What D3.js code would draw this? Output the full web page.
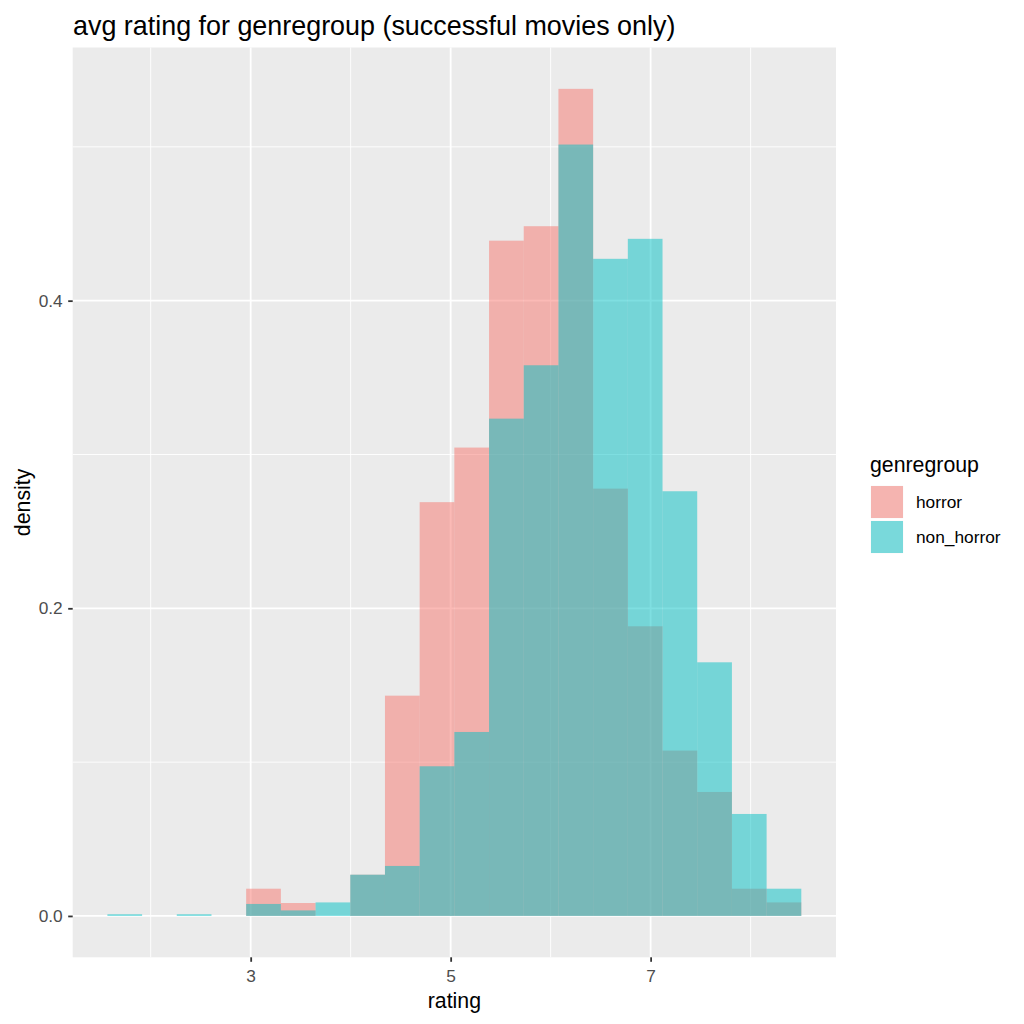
<!DOCTYPE html>
<html>
<head>
<meta charset="utf-8">
<script src="https://cdn.jsdelivr.net/npm/d3@7"></script>
<style>
  body { margin: 0; background: #ffffff; }
  svg { display: block; font-family: 'Liberation Sans', Arial, sans-serif; }
</style>
</head>
<body>
<script>
// bin edges of the histogram (20 bins)
var binEdges = [1.567, 1.914, 2.261, 2.608, 2.955, 3.302, 3.649, 3.996, 4.343, 4.690, 5.037,
                5.384, 5.731, 6.078, 6.425, 6.772, 7.119, 7.466, 7.813, 8.160, 8.507];

// density per bin
var horrorDensity    = [0, 0, 0, 0, 0.0177, 0.0084, 0, 0.0268, 0.1432, 0.2690,
                        0.3045, 0.4390, 0.4484, 0.5377, 0.2778, 0.1883, 0.1075, 0.0806, 0.0177, 0.0088];
var nonHorrorDensity = [0.0011, 0, 0.0011, 0, 0.0078, 0.0036, 0.0088, 0.0268, 0.0325, 0.0973,
                        0.1196, 0.3233, 0.3580, 0.5015, 0.4272, 0.4402, 0.2761, 0.1649, 0.0663, 0.0177];

var groups = ['horror', 'non_horror'];
var groupColors = ['#F8766D', '#00BFC4'];

var xMajorTicks = [3, 5, 7];
var xMinorTicks = [2, 4, 6, 8];
var yMajorTicks = [0, 0.2, 0.4];
var yMinorTicks = [0.1, 0.3, 0.5];

var W = 1024, H = 1024;
var panel = {left: 72.7, right: 836, top: 47.5, bottom: 957.3};

var svg = d3.select('body').append('svg').attr('width', W).attr('height', H);
svg.append('rect').attr('width', W).attr('height', H).attr('fill', '#ffffff');

// scales with ggplot's 5% expansion
var xLo = binEdges[0], xHi = binEdges[binEdges.length - 1];
var xPad = (xHi - xLo) * 0.05;
var x = d3.scaleLinear().domain([xLo - xPad, xHi + xPad]).range([panel.left, panel.right]);

var yMax = d3.max(horrorDensity.concat(nonHorrorDensity));
var y = d3.scaleLinear().domain([-0.05 * yMax, 1.05 * yMax]).range([panel.bottom, panel.top]);

var color = d3.scaleOrdinal().domain(groups).range(groupColors);

// panel background + grid
svg.append('rect')
   .attr('x', panel.left).attr('y', panel.top)
   .attr('width', panel.right - panel.left).attr('height', panel.bottom - panel.top)
   .attr('fill', '#EBEBEB');

var grid = svg.append('g');
grid.selectAll('.ymin').data(yMinorTicks).enter().append('line')
    .attr('x1', panel.left).attr('x2', panel.right)
    .attr('y1', function(d){ return y(d); }).attr('y2', function(d){ return y(d); })
    .attr('stroke', '#ffffff').attr('stroke-width', 0.9);
grid.selectAll('.xmin').data(xMinorTicks).enter().append('line')
    .attr('y1', panel.top).attr('y2', panel.bottom)
    .attr('x1', function(d){ return x(d); }).attr('x2', function(d){ return x(d); })
    .attr('stroke', '#ffffff').attr('stroke-width', 0.9);
grid.selectAll('.ymaj').data(yMajorTicks).enter().append('line')
    .attr('x1', panel.left).attr('x2', panel.right)
    .attr('y1', function(d){ return y(d); }).attr('y2', function(d){ return y(d); })
    .attr('stroke', '#ffffff').attr('stroke-width', 1.8);
grid.selectAll('.xmaj').data(xMajorTicks).enter().append('line')
    .attr('y1', panel.top).attr('y2', panel.bottom)
    .attr('x1', function(d){ return x(d); }).attr('x2', function(d){ return x(d); })
    .attr('stroke', '#ffffff').attr('stroke-width', 1.8);

// bars, horror first then non_horror on top (position identity, alpha .5)
var series = [horrorDensity, nonHorrorDensity];
series.forEach(function(vals, gi) {
    var bins = vals.map(function(v, i){ return {x0: binEdges[i], x1: binEdges[i + 1], v: v}; })
                   .filter(function(b){ return b.v > 0; });
    svg.append('g').selectAll('rect').data(bins).enter().append('rect')
       .attr('x', function(b){ return x(b.x0); })
       .attr('width', function(b){ return x(b.x1) - x(b.x0); })
       .attr('y', function(b){ return y(b.v); })
       .attr('height', function(b){ return y(0) - y(b.v); })
       .attr('fill', color(groups[gi]))
       .attr('fill-opacity', 0.5);
});

// axes
var xAxis = svg.append('g')
    .attr('transform', 'translate(0,' + panel.bottom + ')')
    .call(d3.axisBottom(x).tickValues(xMajorTicks).tickFormat(d3.format('d')).tickSize(4.5).tickPadding(7.5));
var yAxis = svg.append('g')
    .attr('transform', 'translate(' + panel.left + ',0)')
    .call(d3.axisLeft(y).tickValues(yMajorTicks).tickFormat(d3.format('.1f')).tickSize(4.5).tickPadding(5.5));

[xAxis, yAxis].forEach(function(a) {
    a.select('.domain').remove();
    a.selectAll('line').attr('stroke', '#333333').attr('stroke-width', 1.8);
    a.selectAll('text').attr('fill', '#4D4D4D').style('font-size', '17.3px')
     .style('font-family', "'Liberation Sans', Arial, sans-serif");
});

// titles
svg.append('text').text('avg rating for genregroup (successful movies only)')
   .attr('x', 73).attr('y', 35).attr('fill', '#000000').style('font-size', '26.9px');

svg.append('text').text('rating')
   .attr('x', (panel.left + panel.right) / 2).attr('y', 1008)
   .attr('text-anchor', 'middle').attr('fill', '#000000').style('font-size', '21.3px');

svg.append('text').text('density')
   .attr('transform', 'translate(29.5,' + ((panel.top + panel.bottom) / 2) + ') rotate(-90)')
   .attr('text-anchor', 'middle').attr('fill', '#000000').style('font-size', '21.3px');

// legend
var legend = svg.append('g');
legend.append('text').text('genregroup')
      .attr('x', 870).attr('y', 471.5).attr('fill', '#000000').style('font-size', '21.3px');

var keys = legend.selectAll('.key').data(groups).enter().append('g')
    .attr('transform', function(d, i){ return 'translate(870,' + (485 + i * 35) + ')'; });
keys.append('rect').attr('width', 34).attr('height', 34)
    .attr('fill', '#F2F2F2').attr('stroke', '#ffffff').attr('stroke-width', 1.5);
keys.append('rect').attr('x', 1).attr('y', 1).attr('width', 32).attr('height', 32)
    .attr('fill', function(d){ return color(d); }).attr('fill-opacity', 0.5);
keys.append('text').text(function(d){ return d; })
    .attr('x', 46).attr('y', 23).attr('fill', '#000000').style('font-size', '17.3px');
</script>
</body>
</html>
